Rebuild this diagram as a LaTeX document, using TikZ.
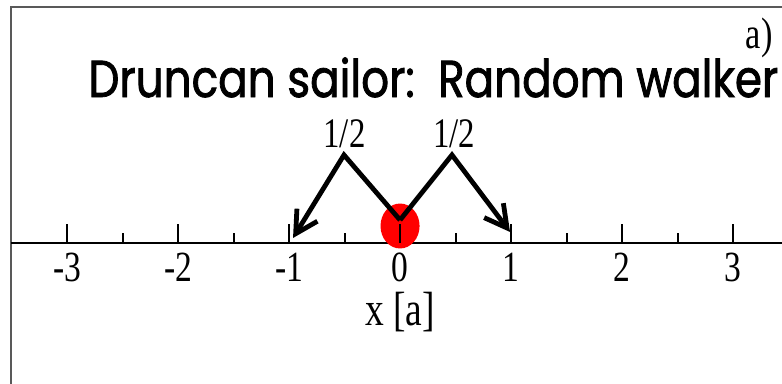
\documentclass[tikz,border=0pt]{standalone}
\usepackage{fontspec}
\setmainfont{Liberation Serif}[FakeStretch=0.78]
\newfontfamily\titlefont{Poppins}[FakeStretch=0.84,FakeBold=1.5]
\usetikzlibrary{arrows.meta,shapes.geometric}

\begin{document}
\begin{tikzpicture}[x=1.95cm,y=1.95cm,
    frame/.style={draw=black!65,line width=1pt},
    axis/.style={line width=1pt},
    walk/.style={-{Straight Barb[length=11pt,width=12pt]},line width=2.4pt},
    num/.style={font=\fontsize{21.5}{21.5}\selectfont,inner sep=0pt}]
  \useasboundingbox (-3.604,-1.270) rectangle (3.441,2.189);
  % frame and axis
  \draw[frame] (-3.505,-1.270) -- (-3.505,2.126) -- (3.441,2.126);
  \draw[axis] (-3.505,0) -- (3.441,0);
  \node[ellipse,fill=red,minimum width=0.686cm,minimum height=0.79cm,inner sep=0pt] (walker) at (0,0.153) {};
  \foreach \i in {-3,...,3} {
    \draw[axis] (\i,0) -- (\i,0.171);
    \node[num,anchor=base] (tick\i) at (\i,-0.351) {\i};
  }
  \foreach \i in {-2.5,-1.5,...,2.5}
    \draw[axis] (\i,0) -- (\i,0.09);
  \node[font=\fontsize{24}{24}\selectfont,anchor=base,inner sep=0pt] (xlabel) at (0,-0.739) {x [a]};
  % the two steps
  \coordinate (start) at (0,0.207);
  \coordinate (lpeak) at (-0.505,0.793);
  \coordinate (rpeak) at (0.468,0.793);
  \coordinate (lend) at (-0.964,0.045);
  \coordinate (rend) at (0.991,0.099);
  \draw[walk] (start) -- (lpeak) -- (lend);
  \draw[walk] (start) -- (rpeak) -- (rend);
  \node[font=\fontsize{21}{21}\selectfont,anchor=base,inner sep=0pt] (lprob) at (-0.5,0.856) {1/2};
  \node[font=\fontsize{21}{21}\selectfont,anchor=base,inner sep=0pt] (rprob) at (0.49,0.856) {1/2};
  % titles
  \node[font=\titlefont\fontsize{26}{26}\selectfont,anchor=base west,inner sep=0pt] (title) at (-2.81,1.315) {Druncan sailor:\ \ Random walker};
  \node[font=\fontsize{22}{22}\selectfont,anchor=base east,inner sep=0pt] (panel) at (3.36,1.748) {a)};
\end{tikzpicture}
\end{document}
